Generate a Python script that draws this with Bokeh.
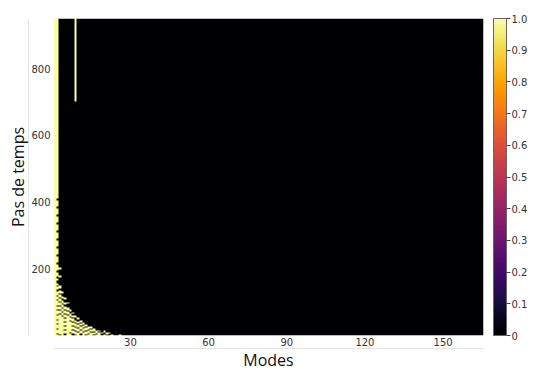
import numpy as np
from bokeh.plotting import figure
from bokeh.models import LinearColorMapper, ColorBar, FixedTicker, LinearAxis
from bokeh.palettes import Inferno256
from bokeh.embed import file_html
from bokeh.resources import INLINE

n_modes = 165
n_steps = 950
x_ticks = [30, 60, 90, 120, 150]
y_ticks = [200, 400, 600, 800]
cbar_ticks = [0, 0.1, 0.2, 0.3, 0.4, 0.5, 0.6, 0.7, 0.8, 0.9, 1.0]
cbar_labels = ["0", "0.1", "0.2", "0.3", "0.4", "0.5", "0.6", "0.7", "0.8", "0.9", "1.0"]

# time-step intervals (inclusive) where each mode has value 1; everything else is 0
on_segments = {
    1: [(1, 950)],
    2: [(413, 950), (389, 404), (365, 380), (341, 356), (317, 332), (293, 308), (269, 284),
        (245, 260), (221, 236), (197, 212), (179, 188), (165, 171), (150, 157), (138, 146),
        (122, 132), (108, 118), (92, 104), (78, 88), (64, 74), (50, 60), (36, 46), (22, 32),
        (8, 18), (1, 4)],
    3: [(199, 203), (176, 181), (142, 150), (128, 136), (116, 124), (102, 110), (90, 98),
        (78, 86), (66, 74), (52, 62), (40, 50), (28, 38), (16, 26), (4, 14)],
    4: [(126, 131), (112, 118), (98, 104), (84, 92), (72, 80), (60, 68), (46, 56), (34, 44),
        (22, 32), (10, 20), (1, 8)],
    5: [(108, 113), (94, 100), (80, 88), (68, 76), (56, 64), (42, 52), (30, 40), (18, 28), (6, 16)],
    6: [(96, 100), (76, 84), (64, 72), (50, 60), (38, 48), (26, 36), (14, 24), (2, 12)],
    7: [(72, 78), (58, 66), (46, 54), (34, 42), (22, 32), (10, 20), (1, 6)],
    8: [(66, 70), (54, 60), (42, 50), (30, 38), (18, 28), (6, 16)],
    9: [(701, 950), (56, 60), (40, 46), (28, 36), (16, 24), (4, 12)],
    10: [(50, 54), (36, 42), (24, 32), (12, 20), (1, 8)],
    11: [(40, 44), (30, 36), (18, 26), (6, 14)],
    12: [(34, 38), (24, 30), (12, 20), (2, 8)],
    13: [(28, 32), (16, 24), (4, 12)],
    14: [(20, 26), (8, 16), (1, 4)],
    15: [(22, 26), (12, 18), (2, 8)],
    16: [(14, 20), (4, 10)],
    17: [(8, 14), (1, 4)],
    18: [(12, 16), (2, 8)],
    19: [(6, 10)],
    20: [(10, 14), (1, 4)],
    21: [(4, 8)],
    22: [(6, 9)],
    23: [(1, 4)],
    26: [(1, 3)],
}

mat = np.zeros((n_steps, n_modes))
for m, segs in on_segments.items():
    for a, b in segs:
        mat[a - 1:b, m - 1] = 1.0

mapper = LinearColorMapper(palette=Inferno256, low=0, high=1)

p = figure(frame_width=430, frame_height=317, output_backend="svg", toolbar_location=None,
           x_range=(0.5, n_modes + 0.5), y_range=(0.5, n_steps + 0.5),
           min_border_top=18, min_border_left=53, min_border_bottom=36, min_border_right=20)
p.image(image=[mat], x=0.5, y=0.5, dw=n_modes, dh=n_steps, color_mapper=mapper)

p.grid.visible = False
p.outline_line_color = None
p.background_fill_color = "white"

tick_font = "DejaVu Sans"
for ax in (p.xaxis[0], p.yaxis[0]):
    ax.axis_line_color = None
    ax.major_tick_line_color = None
    ax.minor_tick_line_color = None
    ax.major_tick_out = 0
    ax.major_tick_in = 0
    ax.minor_tick_out = 0
    ax.minor_tick_in = 0
    ax.major_label_text_font = tick_font
    ax.major_label_text_font_size = "10px"
    ax.major_label_text_color = "#333333"
p.xaxis[0].major_label_standoff = 2
p.yaxis[0].major_label_standoff = 3
p.xaxis[0].ticker = FixedTicker(ticks=x_ticks)
p.yaxis[0].ticker = FixedTicker(ticks=y_ticks)

outer_left = LinearAxis(axis_label="Pas de temps", bounds=(-50, 965))
outer_bottom = LinearAxis(axis_label="Modes", bounds=(-11, 185))
for ax in (outer_left, outer_bottom):
    ax.ticker = FixedTicker(ticks=[])
    ax.major_tick_line_color = None
    ax.minor_tick_line_color = None
    ax.major_tick_out = 0
    ax.major_tick_in = 0
    ax.minor_tick_out = 0
    ax.minor_tick_in = 0
    ax.major_label_text_font_size = "0px"
    ax.major_label_standoff = 0
    ax.axis_line_color = "#e3e3e3"
    ax.axis_line_width = 1
    ax.axis_label_text_font = "Open Sans"
    ax.axis_label_text_font_style = "normal"
    ax.axis_label_text_font_size = "16px"
    ax.axis_label_text_color = "#111111"
    ax.axis_label_standoff = 0
p.add_layout(outer_left, "left")
p.add_layout(outer_bottom, "below")

cb = ColorBar(color_mapper=mapper, width=13, padding=0, location=(10, 0),
              ticker=FixedTicker(ticks=cbar_ticks),
              major_label_overrides={t: l for t, l in zip(cbar_ticks, cbar_labels)},
              major_label_text_font=tick_font, major_label_text_font_size="10px",
              major_label_text_color="#333333",
              major_tick_in=0, major_tick_out=4, major_tick_line_color="#444444",
              minor_tick_line_color=None, bar_line_color="#666666",
              label_standoff=1, background_fill_color=None)
p.add_layout(cb, "right")

open("out.html", "w").write(file_html(p, INLINE))
